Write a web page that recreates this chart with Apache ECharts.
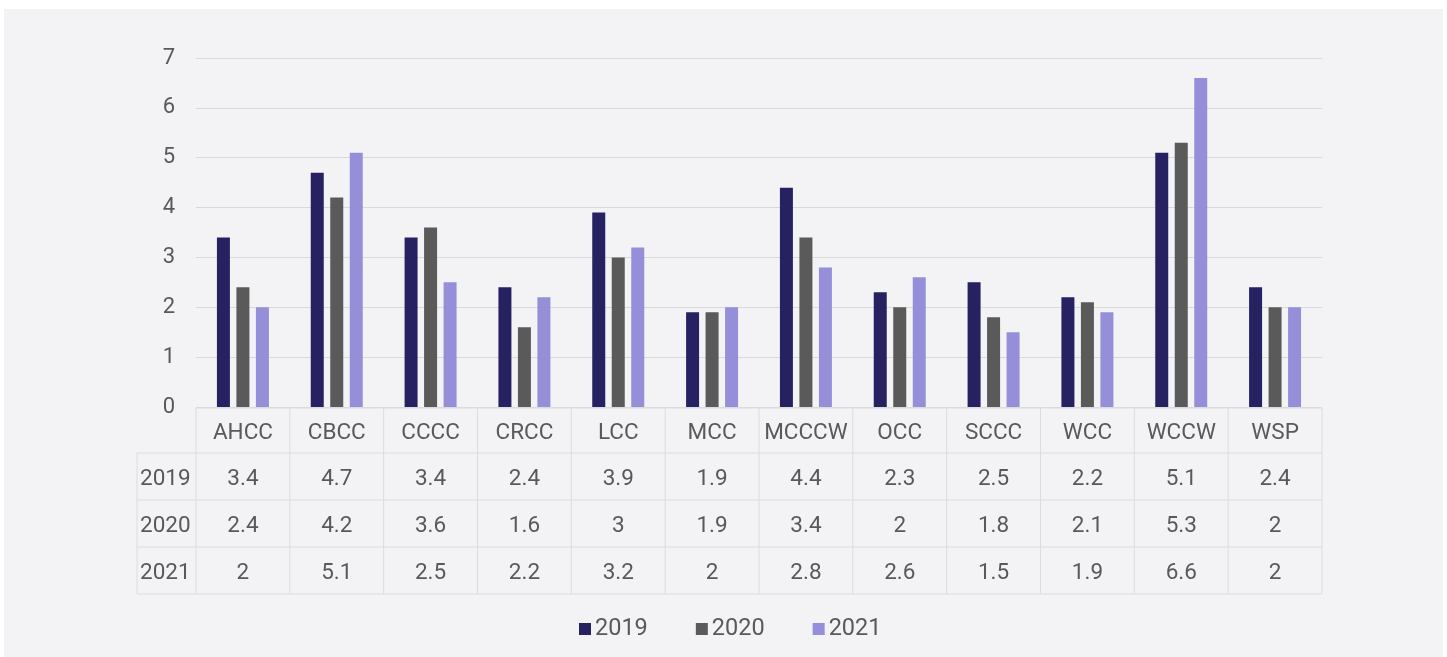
<!DOCTYPE html>
<html>
<head>
<meta charset="utf-8">
<style>
  html, body { margin: 0; padding: 0; background: #fff; }
  #main { width: 1447px; height: 657px; }
</style>
<script src="https://cdn.jsdelivr.net/npm/echarts@6/dist/echarts.min.js"></script>
</head>
<body>
<div id="main"></div>
<script>
var categories = ['AHCC', 'CBCC', 'CCCC', 'CRCC', 'LCC', 'MCC', 'MCCCW', 'OCC', 'SCCC', 'WCC', 'WCCW', 'WSP'];
var years = ['2019', '2020', '2021'];
var v2019 = [3.4, 4.7, 3.4, 2.4, 3.9, 1.9, 4.4, 2.3, 2.5, 2.2, 5.1, 2.4];
var v2020 = [2.4, 4.2, 3.6, 1.6, 3, 1.9, 3.4, 2, 1.8, 2.1, 5.3, 2];
var v2021 = [2, 5.1, 2.5, 2.2, 3.2, 2, 2.8, 2.6, 1.5, 1.9, 6.6, 2];
var colors = ['#262262', '#5a5a5a', '#948fd8'];

var seriesValues = [v2019, v2020, v2021];
var textColor = '#595959';
var lineColor = '#dcdcdc';
var font = 'Roboto';

var myChart = echarts.init(document.getElementById('main'));

var option = {
    backgroundColor: '#fff',
    color: colors,
    textStyle: { fontFamily: font },
    grid: { left: 196, right: 125, top: 58, bottom: 250 },
    legend: {
        data: years,
        bottom: 11,
        left: 574,
        itemWidth: 12,
        itemHeight: 12,
        itemGap: 48,
        icon: 'rect',
        textStyle: { fontSize: 23.5, color: textColor, fontFamily: font, padding: [0, 0, 0, -1] }
    },
    xAxis: {
        type: 'category',
        data: categories,
        axisLine: { show: false },
        axisTick: { show: false },
        axisLabel: { show: false }
    },
    yAxis: {
        type: 'value',
        min: 0,
        max: 7,
        interval: 1,
        axisLine: { show: false },
        axisTick: { show: false },
        axisLabel: { fontSize: 22, color: textColor, margin: 21, fontFamily: font },
        splitLine: { lineStyle: { color: '#d9d9d9', width: 1 } }
    },
    series: years.map(function (y, i) {
        return {
            name: y,
            type: 'bar',
            data: seriesValues[i],
            barWidth: 13,
            barGap: '50%',
            itemStyle: { color: colors[i] }
        };
    })
};
myChart.setOption(option);

// data table under the axis, placed from the category scale
function buildTable() {
    var els = [];
    els.push({
        type: 'rect', silent: true, z: -100,
        shape: { x: 4, y: 9, width: 1439, height: 660 },
        style: { fill: '#f3f3f6' }
    });
    var band = myChart.convertToPixel({ xAxisIndex: 0 }, categories[1]) - myChart.convertToPixel({ xAxisIndex: 0 }, categories[0]);
    var x0 = myChart.convertToPixel({ xAxisIndex: 0 }, categories[0]) - band / 2;
    var xEnd = x0 + band * categories.length;
    var yTop = myChart.convertToPixel({ yAxisIndex: 0 }, 0) + 1;
    var headH = 45, rowH = 47;
    var labelLeft = 137;
    var yRows = yTop + headH;
    var yBottom = yRows + rowH * years.length;
    var lineStyle = { stroke: lineColor, lineWidth: 1 };

    // horizontal lines
    els.push({ type: 'line', silent: true, shape: { x1: x0, y1: yTop, x2: xEnd, y2: yTop }, style: lineStyle });
    for (var r = 0; r <= years.length; r++) {
        var yy = yRows + rowH * r;
        els.push({ type: 'line', silent: true, shape: { x1: labelLeft, y1: yy, x2: xEnd, y2: yy }, style: lineStyle });
    }
    // vertical lines
    els.push({ type: 'line', silent: true, shape: { x1: labelLeft, y1: yRows, x2: labelLeft, y2: yBottom }, style: lineStyle });
    for (var c = 0; c <= categories.length; c++) {
        var xx = x0 + band * c;
        els.push({ type: 'line', silent: true, shape: { x1: xx, y1: yTop, x2: xx, y2: yBottom }, style: lineStyle });
    }
    // header text
    categories.forEach(function (cat, i) {
        els.push({
            type: 'text', silent: true,
            x: x0 + band * (i + 0.5), y: yTop + headH / 2 + 3,
            style: { text: cat, fontSize: 22.5, fontFamily: font, fill: textColor, align: 'center', verticalAlign: 'middle' }
        });
    });
    // rows
    years.forEach(function (y, r) {
        var cy = yRows + rowH * (r + 0.5) + 3;
        els.push({
            type: 'text', silent: true,
            x: labelLeft + 3, y: cy,
            style: { text: y, fontSize: 22.5, fontFamily: font, fill: textColor, align: 'left', verticalAlign: 'middle' }
        });
        seriesValues[r].forEach(function (v, i) {
            els.push({
                type: 'text', silent: true,
                x: x0 + band * (i + 0.5), y: cy,
                style: { text: String(v), fontSize: 22.5, fontFamily: font, fill: textColor, align: 'center', verticalAlign: 'middle' }
            });
        });
    });
    myChart.setOption({ graphic: { elements: els } });
}
buildTable();
</script>
</body>
</html>
